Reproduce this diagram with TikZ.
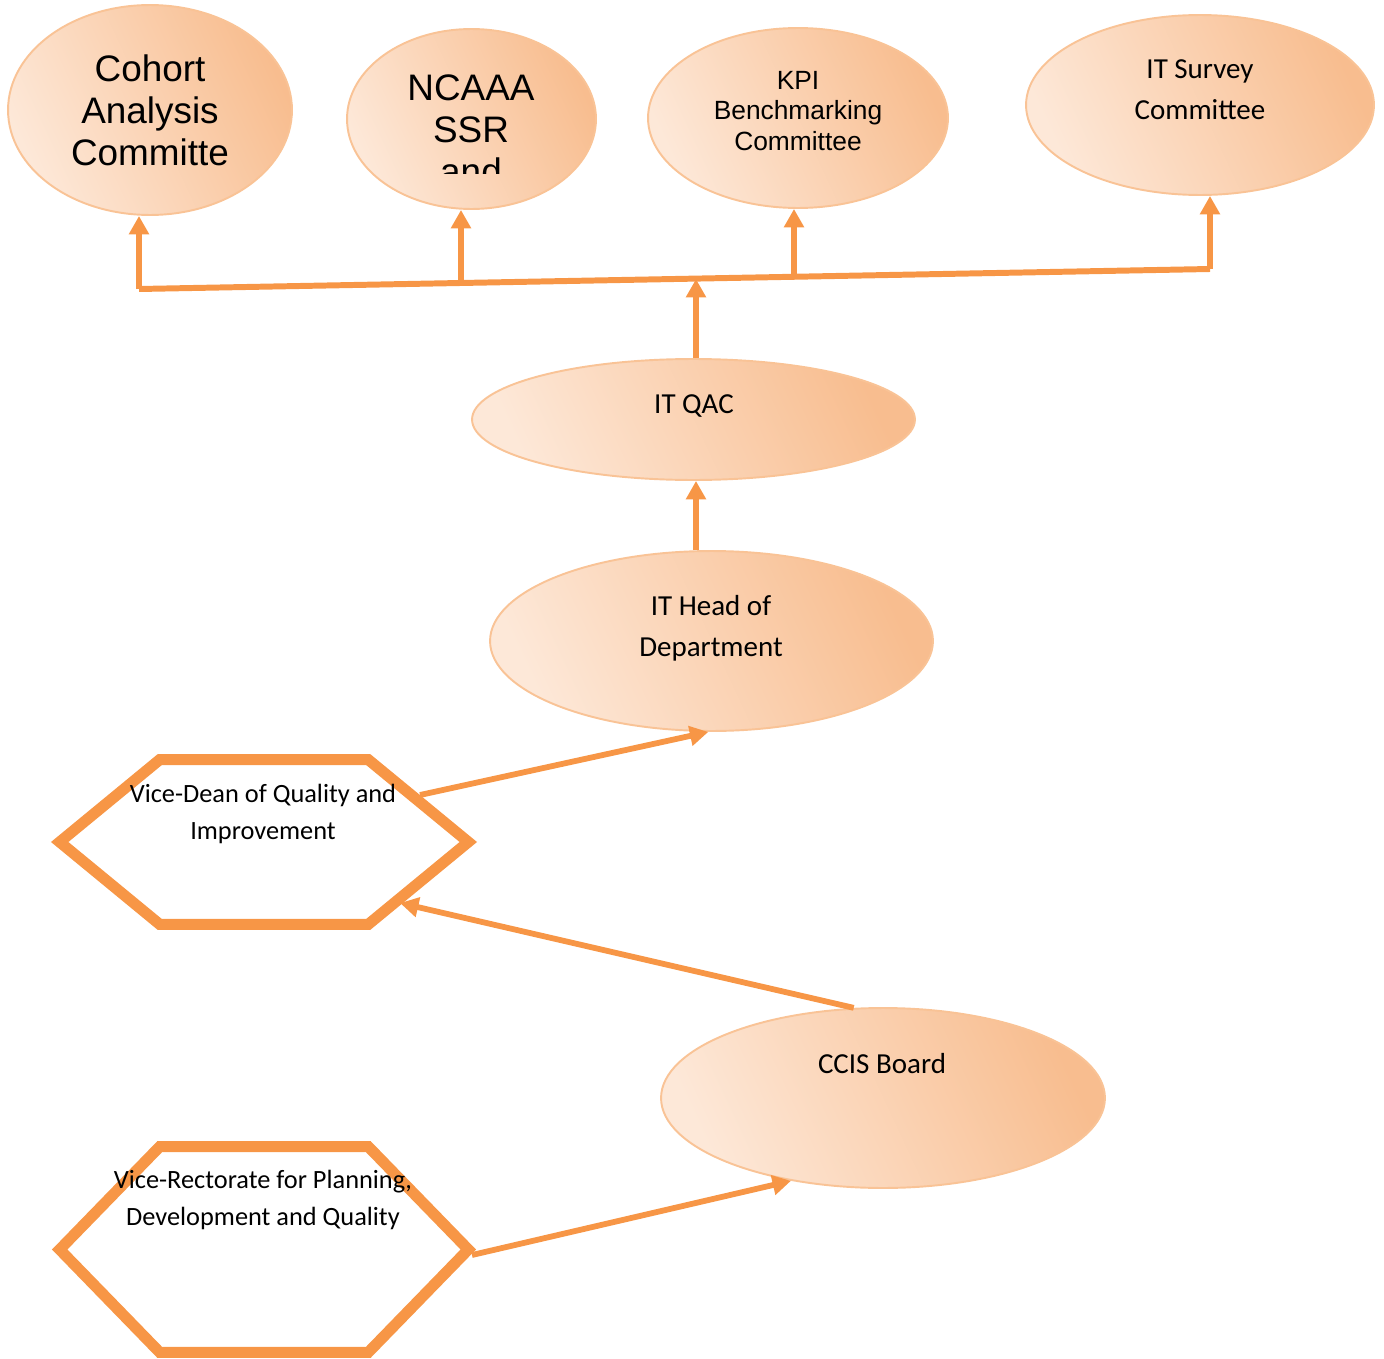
\documentclass[tikz,border=0pt]{standalone}
\usepackage{fontspec}
\setmainfont{Carlito}
\newfontfamily\arialf{Liberation Sans}
\usetikzlibrary{arrows.meta,calc,shapes.geometric}
\definecolor{orln}{HTML}{F79646}
\definecolor{elLight}{HTML}{FDE8D8}
\definecolor{elDark}{HTML}{F8BD8F}
\definecolor{elBorder}{HTML}{F9C396}
\begin{document}
\begin{tikzpicture}[x=0.02cm,y=-0.02cm,
  ell/.style={ellipse, draw=elBorder, line width=1.1pt, top color=elDark, bottom color=elLight, shading angle=-65, inner sep=0pt},
  conn/.style={draw=orln, line width=3.3pt, -{Triangle[length=10.5pt,width=11pt]}},
  busline/.style={draw=orln, line width=3.4pt},
  hexbox/.style={rectangle, draw=none, inner sep=0pt, minimum width=8.16cm},
  hexline/.style={draw=orln, line width=6.3pt},
  lblA/.style={align=center, inner sep=0pt, font=\arialf\fontsize{21}{23.8}\selectfont},
  lblK/.style={align=center, inner sep=0pt, font=\arialf\fontsize{15}{17.4}\selectfont},
  lblC/.style={align=center, inner sep=0pt, font=\fontsize{16.5}{23.3}\selectfont},
  lblH/.style={align=center, inner sep=0pt, font=\fontsize{15}{21}\selectfont}
]
\useasboundingbox (0,0) rectangle (1384,1359);

% ellipses
\node[ell, minimum width=5.68cm, minimum height=4.2cm] (coh) at (150,110) {};
\node[ell, minimum width=4.98cm, minimum height=3.6cm] (ncaaa) at (471.5,119) {};
\node[ell, minimum width=6.0cm, minimum height=3.6cm] (kpi) at (798,118) {};
\node[ell, minimum width=6.96cm, minimum height=3.6cm] (surv) at (1200,105) {};
\node[ell, minimum width=8.86cm, minimum height=2.42cm] (qac) at (693.5,419.5) {};
\node[ell, minimum width=8.86cm, minimum height=3.6cm] (ith) at (711.5,641) {};
\node[ell, minimum width=8.88cm, minimum height=3.6cm] (ccis) at (883,1098) {};

% texts in ellipses
\node[lblA] (coht) at (150,110) {Cohort\\Analysis\\Committe};
\begin{scope}
  \clip (340,20) rectangle (600,173);
  \node[lblA] (ncaaat) at (471,130) {NCAAA\\SSR\\and};
\end{scope}
\node[lblK] (kpit) at (798,111) {KPI\\Benchmarking\\Committee};
\node[lblC] (survt) at (1200,90) {IT Survey\\Committee};
\node[lblC] (qact) at (694,406) {IT QAC};
\node[lblC] (itht) at (711,628) {IT Head of\\Department};
\node[lblC] (ccist) at (882,1064) {CCIS Board};

% hexagons
\node[hexbox, minimum height=3.28cm] (vd) at (264,842) {};
\draw[hexline] (vd.west) -- ($(vd.north west)+(100,0)$) -- ($(vd.north east)+(-100,0)$)
  -- (vd.east) -- ($(vd.south east)+(-100,0)$) -- ($(vd.south west)+(100,0)$) -- cycle;
\node[lblH] (vdt) at (263,814) {Vice-Dean of Quality and\\Improvement};

\node[hexbox, minimum height=4.1cm] (vr) at (264,1249.5) {};
\draw[hexline] (vr.west) -- ($(vr.north west)+(100,0)$) -- ($(vr.north east)+(-100,0)$)
  -- (vr.east) -- ($(vr.south east)+(-100,0)$) -- ($(vr.south west)+(100,0)$) -- cycle;
\node[lblH] (vrt) at (263,1200) {Vice-Rectorate for Planning,\\Development and Quality};

% bus
\coordinate (bL) at (139,289);
\coordinate (b2) at (461,283);
\coordinate (bQ) at (696,279);
\coordinate (b3) at (794,277);
\coordinate (bR) at (1210,269);
\draw[busline] (bL) -- (bR);

\draw[conn] (bL) -- (bL |- coh.south);
\draw[conn] (b2) -- (b2 |- ncaaa.south);
\draw[conn] (b3) -- (b3 |- kpi.south);
\draw[conn] (bR) -- (bR |- surv.south);
\draw[conn] (qac.north -| bQ) -- (bQ);
\draw[conn] (ith.north -| bQ) -- (qac.south -| bQ);

% diagonal connectors
\coordinate (vdA) at (420,795);
\coordinate (vdB) at (400,903);
\coordinate (vrA) at (472,1255);
\draw[conn] (vdA) -- (ith.268);
\draw[conn] (ccis.108) -- (vdB);
\draw[conn] (vrA) -- (ccis.222);
\end{tikzpicture}
\end{document}
